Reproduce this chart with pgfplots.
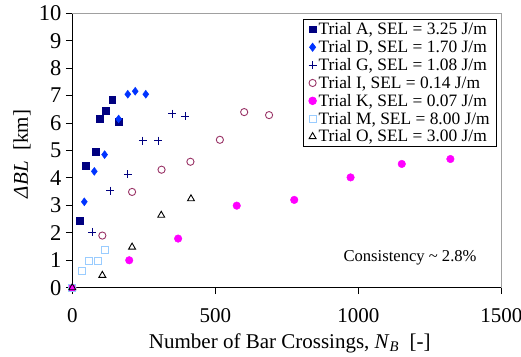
\documentclass[border=0pt]{standalone}
\usepackage{pgfplots}
\pgfplotsset{compat=1.18}
\usepackage{fontspec}
\setmainfont{Liberation Serif}
\definecolor{cA}{RGB}{0,0,128}
\definecolor{cD}{RGB}{0,51,255}
\definecolor{cG}{RGB}{0,0,128}
\definecolor{cI}{RGB}{153,51,102}
\definecolor{cK}{RGB}{255,0,255}
\definecolor{cM}{RGB}{153,204,255}
\definecolor{cO}{RGB}{0,0,0}
\definecolor{frame}{RGB}{160,160,160}
\begin{document}
\begin{tikzpicture}
\begin{axis}[
  name=ax, at={(0,0)}, anchor=south west,
  scale only axis, width=429pt, height=274.4pt,
  xmin=0, xmax=1500, ymin=0, ymax=10,
  xtick={0,500,1000,1500}, ytick={0,1,2,3,4,5,6,7,8,9,10},
  xticklabels={0,500,1000,1500},
  yticklabels={0,1,2,3,4,5,6,7,8,9,10},
  axis lines=left, axis line style={-, black, line width=1pt},
  tick align=outside, major tick length=6.5pt,
  tick style={black, line width=1pt},
  xticklabel style={font=\fontsize{21}{25}\selectfont\rmfamily, yshift=-11pt},
  yticklabel style={font=\fontsize{22.5}{26}\selectfont\rmfamily, xshift=-1pt},
  label style={font=\fontsize{21}{25}\selectfont},
  xlabel={Number of Bar Crossings, \textit{N}\textsubscript{\textit{B}}\ \ [-]},
  ylabel={\textit{ΔBL}\ \ [km]},
  xlabel style={at={(axis description cs:0.507,-0.2198)}, anchor=base},
  ylabel style={at={(axis description cs:-0.1033,0.4872)}, anchor=base},
  legend style={at={(0.9893,0.979)}, anchor=north east, draw=black, line width=0.8pt,
    font=\fontsize{17.4}{18.6}\selectfont, inner xsep=5pt, inner ysep=1.5pt, outer sep=0pt, row sep=0.3pt},
  legend cell align=left,
  clip=false,
]
\draw[frame, line width=1pt] (rel axis cs:0,1) -- (rel axis cs:1,1) -- (rel axis cs:1,0);
\addplot[only marks, mark=square*, mark size=3.35pt, color=cA] coordinates {
 (0,0) (27,2.44) (48,4.45) (83,4.95) (96,6.15) (118,6.44) (139,6.84) (162,6.04)};
\addlegendentry{Trial A, SEL = 3.25 J/m}
\addplot[only marks, mark=diamond*, mark size=4pt, color=cD] coordinates {
 (0,0) (42,3.13) (77,4.24) (113,4.85) (162,6.15) (194,7.05) (220,7.16) (257,7.05)};
\addlegendentry{Trial D, SEL = 1.70 J/m}
\addplot[only marks, mark=+, mark size=4pt, color=cG, mark options={line width=0.9pt}] coordinates {
 (0,0) (69,2.03) (132,3.54) (194,4.14) (247,5.36) (301,5.36) (350,6.34) (394,6.25)};
\addlegendentry{Trial G, SEL = 1.08 J/m}
\addplot[only marks, mark=o, mark size=3.6pt, color=cI, mark options={line width=0.9pt}] coordinates {
 (0,0) (105,1.90) (209,3.49) (312,4.30) (413,4.59) (516,5.39) (601,6.40) (688,6.29)};
\addlegendentry{Trial I, SEL = 0.14 J/m}
\addplot[only marks, mark=*, mark size=3.8pt, color=cK] coordinates {
 (0,0) (199,1.00) (370,1.79) (575,2.99) (776,3.20) (973,4.02) (1152,4.51) (1322,4.69)};
\addlegendentry{Trial K, SEL = 0.07 J/m}
\addplot[only marks, mark=square, mark size=3.5pt, color=cM, mark options={line width=1pt}] coordinates {
 (0,0) (34,0.60) (59,0.98) (91,0.98) (115,1.39)};
\addlegendentry{Trial M, SEL = 8.00 J/m}
\addplot[only marks, mark=triangle, mark size=4pt, color=cO, mark options={line width=0.9pt}] coordinates {
 (0,0) (105,0.45) (209,1.48) (311,2.64) (415,3.24)};
\addlegendentry{Trial O, SEL = 3.00 J/m}
\node[font=\fontsize{16.6}{20}\selectfont] at (axis cs:1181,1.08) {Consistency \textasciitilde\ 2.8\%};
\end{axis}
\pgfresetboundingbox
\useasboundingbox ([shift={(-72.3pt,-68.3pt)}]ax.south west) rectangle ([shift={(448.7pt,287.7pt)}]ax.south west);
\end{tikzpicture}
\end{document}
